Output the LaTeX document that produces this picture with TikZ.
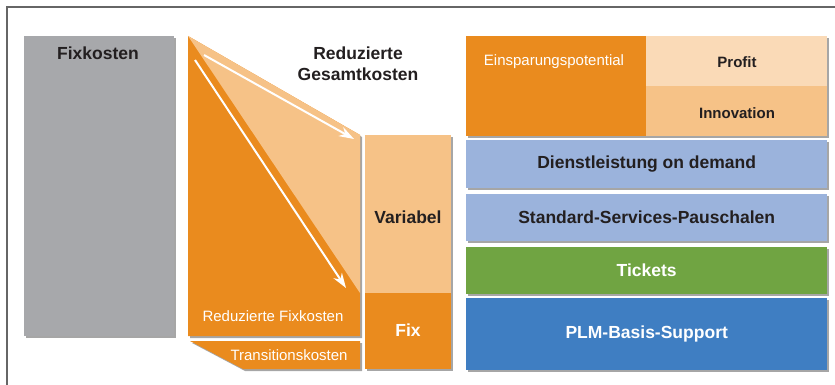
\documentclass[tikz,border=0pt]{standalone}
\usepackage{fontspec}
\setmainfont{Liberation Sans}
\usetikzlibrary{shadows,arrows.meta}
\definecolor{dorange}{HTML}{EA8B1E}
\definecolor{lorange}{HTML}{F6C287}
\definecolor{porange}{HTML}{FADAB7}
\definecolor{greyc}{HTML}{A7A8AB}
\definecolor{bluel}{HTML}{9BB3DC}
\definecolor{greenc}{HTML}{70A442}
\definecolor{blued}{HTML}{3F7EC2}
\definecolor{txt}{HTML}{231F20}
\tikzset{
  shad/.style={drop shadow={shadow xshift=2pt,shadow yshift=-2pt,opacity=.35,fill=black}},
  blk/.style={inner sep=0pt,anchor=north west},
  big/.style={font=\fontsize{17.5}{21}\selectfont\bfseries,text=txt},
  bigw/.style={font=\fontsize{17.5}{21}\selectfont\bfseries,text=white},
  sml/.style={font=\fontsize{15}{18}\selectfont,text=white},
  smlb/.style={font=\fontsize{15}{18}\selectfont\bfseries,text=txt},
  warr/.style={-{Stealth[length=15pt,width=10pt]},white,line width=2pt},
}
\begin{document}
\begin{tikzpicture}[x=1pt,y=-1pt]
  \useasboundingbox (0,0) rectangle (835,385);
  % frame
  \draw[line width=1.5pt,black!60] (7,385) -- (7,7) -- (835,7);
  % fixkosten
  \node[blk,shad,fill=greyc,minimum width=150pt,minimum height=300pt] (fixk) at (24,36) {};
  \node[big] (fixkt) at (98,53) {Fixkosten};
  % reduzierte fixkosten
  \fill[dorange,shad] (188,36) -- (360,135) -- (360,336) -- (188,336) -- cycle;
  \fill[lorange] (188,36) -- (360,135) -- (360,293) -- cycle;
  \coordinate (a1) at (204,55);
  \coordinate (b1) at (354,139);
  \coordinate (a2) at (195,60);
  \coordinate (b2) at (346,288);
  \draw[warr] (a1) -- (b1);
  \draw[warr] (a2) -- (b2);
  \node[sml] (redfix) at (273,316) {Reduzierte Fixkosten};
  \fill[dorange,shad] (190,341) -- (360,341) -- (360,369) -- (243,369) -- cycle;
  \node[sml] (trans) at (289,355) {Transitionskosten};
  \node[big,align=center] (redges) at (358,64) {Reduzierte\\Gesamtkosten};
  % variabel / fix
  \node[blk,shad,fill=lorange,minimum width=86pt,minimum height=158pt] (var) at (365,135) {};
  \node[blk,shad,fill=dorange,minimum width=86pt,minimum height=76pt] (fixb) at (365,293) {};
  \node[big] (vart) at (408,217) {Variabel};
  \node[bigw] (fixt) at (408,330) {Fix};
  % stack
  \node[blk,shad,fill=dorange,minimum width=361pt,minimum height=100pt] (spar) at (466,36) {};
  \node[blk,fill=porange,minimum width=181pt,minimum height=50pt] (prof) at (646,36) {};
  \node[blk,fill=lorange,minimum width=181pt,minimum height=50pt] (inno) at (646,86) {};
  \node[sml] (spart) at (554,62) {Einsparungspotential};
  \node[smlb] (proft) at (737,62) {Profit};
  \node[smlb] (innot) at (737,113) {Innovation};
  \node[blk,shad,fill=bluel,minimum width=361pt,minimum height=48pt] (dienst) at (466,140) {};
  \node[big] at (dienst.center) {Dienstleistung on demand};
  \node[blk,shad,fill=bluel,minimum width=361pt,minimum height=47pt] (std) at (466,194) {};
  \node[big] at (std.center) {Standard-Services-Pauschalen};
  \node[blk,shad,fill=greenc,minimum width=361pt,minimum height=47pt] (tick) at (466,247) {};
  \node[bigw] at (tick.center) {Tickets};
  \node[blk,shad,fill=blued,minimum width=361pt,minimum height=72pt] (plm) at (466,298) {};
  \node[bigw] at (plm.center) {PLM-Basis-Support};
\end{tikzpicture}
\end{document}
